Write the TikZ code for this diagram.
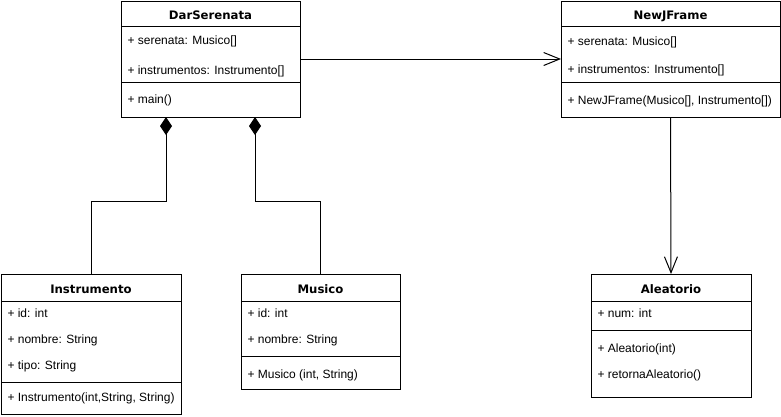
\documentclass[tikz,border=0pt]{standalone}
\usepackage{fontspec}
\setmainfont{Liberation Sans}
\newfontfamily\hdfont{DejaVu Sans}
\usetikzlibrary{arrows.meta}
\begin{document}
\begin{tikzpicture}[x=1pt,y=-1pt,line width=1pt,
  cls/.style={draw,anchor=north west,inner sep=0pt,outer sep=0pt},
  attr/.style={anchor=base west,inner sep=0pt,font=\fontsize{12}{14}\selectfont},
  head/.style={anchor=base,inner sep=0pt,font=\hdfont\bfseries\fontsize{11.7}{14}\selectfont},
  comp/.style={{Diamond[length=18pt,width=12pt]}-},
  dep/.style={-{Straight Barb[length=16pt,width=13pt,line width=1pt]}}]
\useasboundingbox (0,0) rectangle (781,416);

% DarSerenata
\node[cls,minimum width=179pt,minimum height=116pt] (dar) at (121,1) {};
\draw ([yshift=-25pt]dar.north west) -- ([yshift=-25pt]dar.north east);
\draw ([yshift=-81pt]dar.north west) -- ([yshift=-81pt]dar.north east);
\node[head] (darh) at (210.5,19.5) {DarSerenata};
\node[attr] (dara1) at (127,44.5) {+ serenata: Musico[]};
\node[attr] (dara2) at (127,74) {+ instrumentos: Instrumento[]};
\node[attr] (darm1) at (127,103) {+ main()};

% NewJFrame
\node[cls,minimum width=219pt,minimum height=116pt] (njf) at (561,1) {};
\draw ([yshift=-25pt]njf.north west) -- ([yshift=-25pt]njf.north east);
\draw ([yshift=-81pt]njf.north west) -- ([yshift=-81pt]njf.north east);
\node[head] (njfh) at (670.5,19.5) {NewJFrame};
\node[attr] (njfa1) at (567,45) {+ serenata: Musico[]};
\node[attr] (njfa2) at (567,73.5) {+ instrumentos: Instrumento[]};
\node[attr] (njfm1) at (567,104) {+ NewJFrame(Musico[], Instrumento[])};

% Instrumento
\node[cls,minimum width=180pt,minimum height=140pt] (ins) at (1,274) {};
\draw ([yshift=-27pt]ins.north west) -- ([yshift=-27pt]ins.north east);
\draw ([yshift=-108pt]ins.north west) -- ([yshift=-108pt]ins.north east);
\node[head] (insh) at (91,293.5) {Instrumento};
\node[attr] (insa1) at (7,317) {+ id: int};
\node[attr] (insa2) at (7,343.5) {+ nombre: String};
\node[attr] (insa3) at (7,369.5) {+ tipo: String};
\node[attr] (insm1) at (7,401) {+ Instrumento(int,String, String)};

% Musico
\node[cls,minimum width=159pt,minimum height=115pt] (mus) at (241,274) {};
\draw ([yshift=-27pt]mus.north west) -- ([yshift=-27pt]mus.north east);
\draw ([yshift=-82pt]mus.north west) -- ([yshift=-82pt]mus.north east);
\node[head] (mush) at (320.5,293.5) {Musico};
\node[attr] (musa1) at (247,317) {+ id: int};
\node[attr] (musa2) at (247,343.5) {+ nombre: String};
\node[attr] (musm1) at (247,378.5) {+ Musico (int, String)};

% Aleatorio
\node[cls,minimum width=160pt,minimum height=123pt] (ale) at (591,274) {};
\draw ([yshift=-27pt]ale.north west) -- ([yshift=-27pt]ale.north east);
\draw ([yshift=-56pt]ale.north west) -- ([yshift=-56pt]ale.north east);
\node[head] (aleh) at (671,293.5) {Aleatorio};
\node[attr] (alea1) at (597,317) {+ num: int};
\node[attr] (alem1) at (597,352) {+ Aleatorio(int)};
\node[attr] (alem2) at (597,378.5) {+ retornaAleatorio()};

% Connectors
\draw[comp] ([xshift=45pt]dar.south west) |- ([yshift=73pt]ins.north) -- (ins.north);
\draw[comp] ([xshift=134pt]dar.south west) |- ([yshift=73pt]mus.north) -- (mus.north);
\draw[dep] (dar.east) -- (njf.west);
\draw[dep] (njf.south) -- (ale.north);
\end{tikzpicture}
\end{document}
